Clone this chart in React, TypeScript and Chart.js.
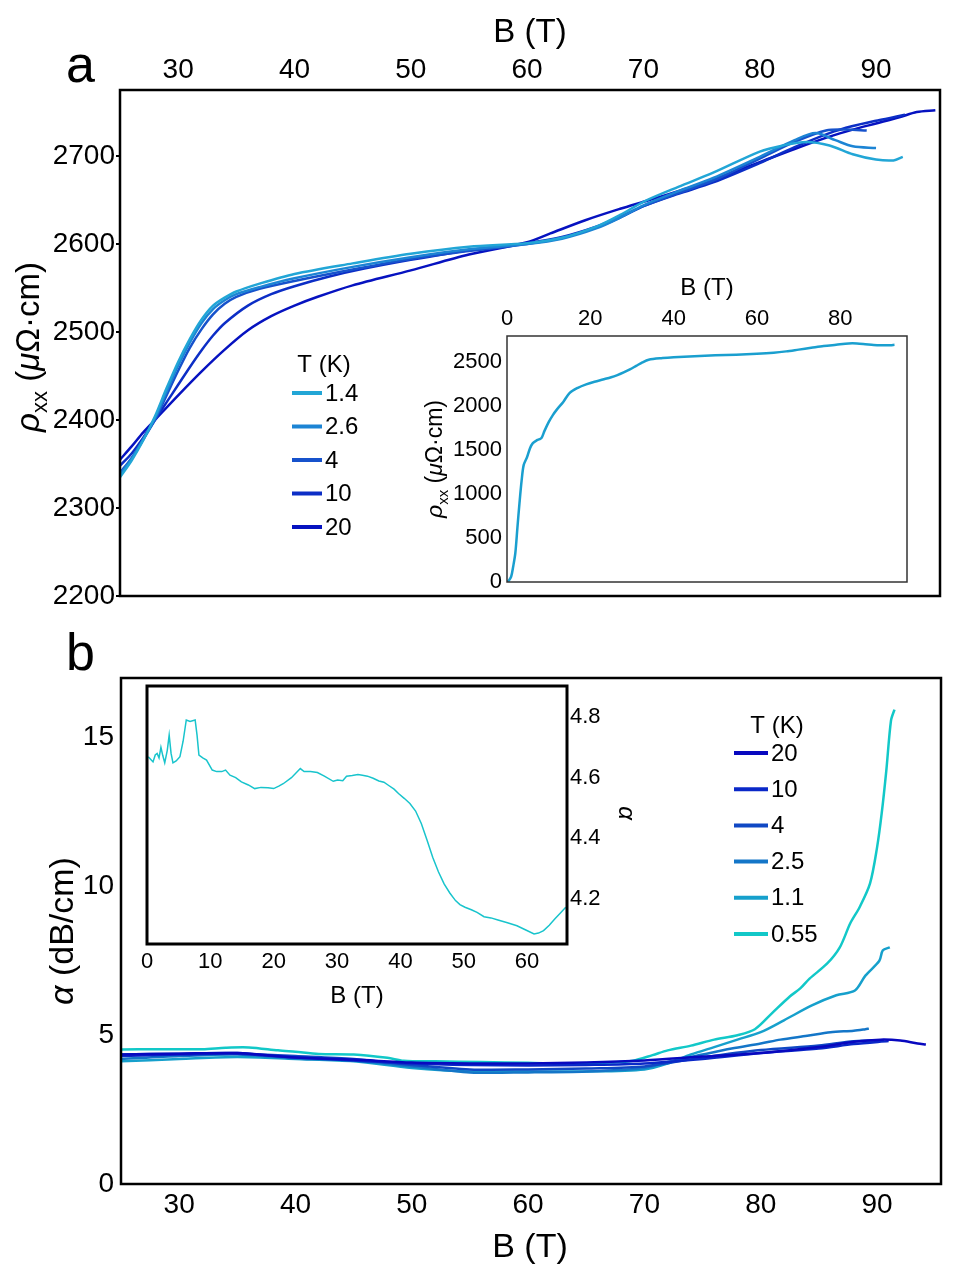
import React, { useEffect, useRef } from "react";
import { Chart, registerables } from "chart.js";

Chart.register(...registerables);

const W = 961;
const H = 1274;
const FONT = "'Liberation Sans', Arial, sans-serif";

// ---------------- Panel a : rho_xx vs B ----------------
const A_TEMPS = ["1.4", "2.6", "4", "10", "20"];
const A_COLORS = ["#22a6d6", "#1c84d4", "#1652cc", "#0c2ec6", "#0612c0"];

const A_B_1p4 = [25, 26, 27, 28, 29, 30, 31, 32, 33, 34, 35, 37, 40, 45, 50, 55, 60, 63, 66, 68, 70, 73, 76, 80, 82, 84, 86, 88, 90, 91.5, 92.3];
const A_R_1p4 = [2335, 2354, 2377, 2404, 2436, 2466, 2492, 2514, 2530, 2539, 2546, 2555, 2566, 2578, 2589, 2597, 2601, 2607, 2620, 2633, 2648, 2665, 2681, 2705, 2712, 2716, 2712, 2702, 2696, 2695, 2699];

const A_B_2p6 = [25, 26, 27, 28, 29, 30, 31, 32, 33, 34, 35, 37, 40, 45, 50, 55, 60, 63, 66, 68, 70, 73, 76, 80, 83, 84.8, 86.5, 88, 90];
const A_R_2p6 = [2338, 2356, 2378, 2402, 2432, 2462, 2488, 2510, 2526, 2536, 2543, 2551, 2561, 2574, 2585, 2594, 2600, 2606, 2618, 2630, 2644, 2660, 2675, 2699, 2718, 2726, 2718, 2711, 2709];

const A_B_4 = [25, 26, 27, 28, 29, 30, 31, 32, 33, 34, 35, 37, 40, 45, 50, 55, 60, 63, 66, 68, 70, 73, 76, 80, 83, 85.7, 87.5, 89.2];
const A_R_4 = [2340, 2357, 2378, 2400, 2428, 2456, 2482, 2503, 2520, 2532, 2540, 2549, 2558, 2571, 2583, 2592, 2600, 2607, 2619, 2630, 2643, 2658, 2672, 2697, 2716, 2729, 2730, 2729];

const A_B_10 = [25, 26, 27, 28, 29, 30, 31, 32, 33, 34, 36, 38, 40, 43, 46, 50, 55, 60, 63, 66, 68, 70, 73, 76, 80, 83, 86, 88, 90, 91.5, 92.5];
const A_R_10 = [2348, 2362, 2380, 2400, 2420, 2440, 2460, 2479, 2496, 2510, 2530, 2543, 2552, 2563, 2572, 2582, 2593, 2601, 2608, 2620, 2631, 2643, 2657, 2670, 2692, 2710, 2726, 2734, 2740, 2744, 2747];

const A_B_20 = [25, 26, 27, 28, 30, 32, 34, 36, 38, 40, 42, 45, 50, 55, 60, 62, 65, 68, 70, 73, 76, 80, 83, 86, 88, 90, 92, 93.5, 95.1];
const A_R_20 = [2355, 2370, 2386, 2400, 2428, 2455, 2480, 2502, 2518, 2530, 2540, 2553, 2570, 2588, 2602, 2612, 2627, 2640, 2648, 2660, 2673, 2693, 2708, 2722, 2730, 2737, 2744, 2750, 2752];

const A_X_TICKS = [30, 40, 50, 60, 70, 80, 90];
const A_Y_TICKS = [2200, 2300, 2400, 2500, 2600, 2700];

// inset a : full field range
const AI_B = [0, 0.5, 1, 1.5, 2, 2.5, 3, 3.5, 4, 4.8, 5.5, 6.2, 7.2, 7.8, 8.3, 9, 10, 11, 12, 13.5, 15, 17, 19, 21, 23, 25, 26.5, 28, 29.5, 31, 32.5, 34, 37, 40, 45, 50, 55, 60, 64, 67, 70, 73, 76, 79, 82, 84, 86, 88, 90, 92, 93];
const AI_R = [0, 20, 60, 180, 330, 620, 900, 1150, 1330, 1420, 1520, 1580, 1614, 1625, 1640, 1720, 1820, 1900, 1965, 2050, 2150, 2210, 2250, 2280, 2305, 2330, 2355, 2385, 2420, 2460, 2500, 2530, 2548, 2557, 2570, 2580, 2588, 2598, 2610, 2625, 2645, 2665, 2685, 2700, 2715, 2715, 2707, 2698, 2695, 2695, 2700];
const AI_X_TICKS = [0, 20, 40, 60, 80];
const AI_Y_TICKS = [0, 500, 1000, 1500, 2000, 2500];

// ---------------- Panel b : alpha vs B ----------------
const B_TEMPS = ["20", "10", "4", "2.5", "1.1", "0.55"];
const B_COLORS = ["#0808bf", "#0a28c8", "#1048c4", "#1476c8", "#16a0cc", "#12c8c8"];

const B_B_20 = [25, 30, 35, 40, 45, 50, 55, 60, 65, 70, 75, 80, 85, 88, 90.3, 92, 93.5, 94.2];
const B_A_20 = [4.35, 4.38, 4.4, 4.25, 4.18, 4.08, 4.05, 4.05, 4.08, 4.15, 4.28, 4.4, 4.6, 4.78, 4.85, 4.82, 4.72, 4.69];

const B_B_10 = [25, 30, 35, 40, 45, 50, 55, 60, 65, 70, 75, 80, 85, 88, 91];
const B_A_10 = [4.3, 4.35, 4.38, 4.25, 4.15, 4.05, 4.0, 3.98, 4.0, 4.05, 4.2, 4.4, 4.55, 4.7, 4.8];

const B_B_4 = [25, 30, 35, 37, 40, 45, 50, 55, 60, 65, 70, 75, 80, 85, 88, 90.6];
const B_A_4 = [4.35, 4.38, 4.4, 4.35, 4.3, 4.2, 4.0, 3.85, 3.85, 3.88, 3.95, 4.25, 4.5, 4.65, 4.8, 4.82];

const B_B_2p5 = [25, 30, 35, 40, 45, 50, 55, 60, 65, 70, 72, 75, 77.5, 80, 81.7, 84, 86, 88, 89, 89.3];
const B_A_2p5 = [4.2, 4.3, 4.35, 4.22, 4.15, 3.95, 3.75, 3.75, 3.78, 3.9, 4.1, 4.35, 4.55, 4.72, 4.85, 4.98, 5.1, 5.15, 5.2, 5.22];

const B_B_1p1 = [25, 30, 35, 40, 45, 50, 55, 60, 65, 70, 72, 74, 76, 78, 80, 82, 84.4, 86.5, 88.1, 89, 90.2, 90.5, 91.1];
const B_A_1p1 = [4.12, 4.2, 4.27, 4.2, 4.12, 3.9, 3.78, 3.78, 3.78, 3.85, 4.05, 4.35, 4.6, 4.85, 5.1, 5.5, 6.0, 6.34, 6.5, 7.0, 7.5, 7.85, 7.95];

const B_B_0p55 = [25, 28, 32, 34, 36, 38.5, 40, 42, 45, 47.9, 49.3, 52, 56, 60, 64, 67, 69, 70.7, 72, 74, 76, 78, 79.5, 81, 82.5, 83.4, 84.2, 85.7, 86.8, 87.7, 88.5, 89.4, 90, 90.4, 90.8, 91.2, 91.5];
const B_A_0p55 = [4.52, 4.53, 4.53, 4.58, 4.59, 4.49, 4.44, 4.37, 4.35, 4.24, 4.14, 4.12, 4.1, 4.07, 4.04, 4.08, 4.14, 4.33, 4.49, 4.65, 4.85, 5.0, 5.2, 5.75, 6.3, 6.57, 6.9, 7.4, 7.95, 8.76, 9.3, 10.1, 11.3, 12.45, 13.9, 15.57, 15.94];

const B_X_TICKS = [30, 40, 50, 60, 70, 80, 90];
const B_Y_TICKS = [0, 5, 10, 15];

// inset b : 0.55 K trace at low field
const BI_B = [0.2, 0.6, 0.95, 1.3, 1.6, 1.9, 2.2, 2.5, 2.8, 3.2, 3.5, 3.8, 4.1, 4.6, 5.2, 5.7, 6.2, 6.8, 7.6, 7.9, 8.2, 8.8, 9.4, 10.3, 11.0, 11.8, 12.4, 13.1, 14.0, 14.9, 16.0, 17.0, 18.0, 19.1, 20.0, 20.8, 21.5, 22.8, 24.2, 24.8, 25.8, 26.9, 28.0, 29.4, 30.1, 30.9, 31.5, 32.4, 33.3, 34.0, 34.8, 35.7, 36.6, 37.4, 38.1, 39.0, 39.7, 40.6, 41.5, 42.4, 43.3, 44.2, 45.1, 46.0, 46.9, 47.8, 48.7, 49.4, 50.2, 51.2, 52.1, 53.2, 54.3, 55.4, 56.9, 58.4, 59.8, 61.1, 61.8, 62.6, 63.5, 64.4, 65.3, 66.1];
const BI_A = [4.669, 4.66, 4.652, 4.675, 4.68, 4.665, 4.7, 4.672, 4.649, 4.69, 4.74, 4.68, 4.649, 4.655, 4.669, 4.72, 4.79, 4.785, 4.79, 4.74, 4.674, 4.665, 4.658, 4.625, 4.62, 4.62, 4.625, 4.608, 4.6, 4.586, 4.576, 4.564, 4.568, 4.567, 4.564, 4.572, 4.58, 4.6, 4.63, 4.62, 4.62, 4.617, 4.605, 4.588, 4.592, 4.59, 4.605, 4.607, 4.61, 4.608, 4.605, 4.598, 4.589, 4.585, 4.575, 4.562, 4.548, 4.532, 4.515, 4.49, 4.449, 4.395, 4.338, 4.29, 4.25, 4.22, 4.195, 4.182, 4.173, 4.165, 4.156, 4.142, 4.138, 4.131, 4.122, 4.112, 4.098, 4.085, 4.088, 4.096, 4.114, 4.135, 4.155, 4.173];
const BI_X_TICKS = [0, 10, 20, 30, 40, 50, 60];
const BI_Y_TICKS = [4.2, 4.4, 4.6, 4.8];
const BI_COLOR = "#18c4cc";

// ---------------- helpers ----------------
const pts = (xs: number[], ys: number[]) => xs.map((x, i) => ({ x, y: ys[i] }));

type Part = { t: string; size: number; italic?: boolean; dy?: number };

function drawRich(ctx: CanvasRenderingContext2D, parts: Part[], x: number, y: number, rot: number, align: "left" | "center" | "right") {
  ctx.save();
  ctx.translate(x, y);
  ctx.rotate(rot);
  ctx.textBaseline = "alphabetic";
  ctx.fillStyle = "#000";
  const f = (p: Part) => `${p.italic ? "italic " : ""}${p.size}px ${FONT}`;
  let total = 0;
  const ws = parts.map((p) => {
    ctx.font = f(p);
    const w = ctx.measureText(p.t).width;
    total += w;
    return w;
  });
  let cx = align === "center" ? -total / 2 : align === "right" ? -total : 0;
  parts.forEach((p, i) => {
    ctx.font = f(p);
    ctx.textAlign = "left";
    ctx.fillText(p.t, cx, p.dy || 0);
    cx += ws[i];
  });
  ctx.restore();
}

function drawLegend(ctx: CanvasRenderingContext2D, chart: any, labels: string[], titleX: number, titleBase: number, x0: number, x1: number, tx: number, y0: number, dy: number, size: number) {
  drawRich(ctx, [{ t: "T (K)", size }], titleX, titleBase, 0, "center");
  labels.forEach((lab, i) => {
    const y = y0 + i * dy;
    ctx.save();
    ctx.strokeStyle = chart.data.datasets[i].borderColor;
    ctx.lineWidth = 4;
    ctx.beginPath();
    ctx.moveTo(x0, y);
    ctx.lineTo(x1, y);
    ctx.stroke();
    ctx.fillStyle = "#000";
    ctx.font = `${size}px ${FONT}`;
    ctx.textBaseline = "middle";
    ctx.textAlign = "left";
    ctx.fillText(lab, tx, y + 1);
    ctx.restore();
  });
}

type AxisSpec = { pos: "top" | "bottom" | "left" | "right"; min: number; max: number; ticks: number[]; size: number; pad: number; tickLen?: number; box: number };
type Area = { l: number; t: number; r: number; b: number };

function buildChart(canvas: HTMLCanvasElement, area: Area, xs: AxisSpec, ys: AxisSpec, datasets: any[], frameW: number, frameColor: string, draw: (ctx: CanvasRenderingContext2D, chart: any) => void) {
  const padding = {
    left: area.l - (ys.pos === "left" ? ys.box : 0),
    right: W - area.r - (ys.pos === "right" ? ys.box : 0),
    top: area.t - (xs.pos === "top" ? xs.box : 0),
    bottom: H - area.b - (xs.pos === "bottom" ? xs.box : 0),
  };
  const axis = (s: AxisSpec, horizontal: boolean) => ({
    type: "linear",
    position: s.pos,
    min: s.min,
    max: s.max,
    afterBuildTicks: (sc: any) => {
      sc.ticks = s.ticks.map((v) => ({ value: v }));
    },
    afterFit: (sc: any) => {
      if (horizontal) sc.height = s.box;
      else sc.width = s.box;
    },
    grid: {
      display: !!s.tickLen,
      drawOnChartArea: false,
      drawTicks: !!s.tickLen,
      tickLength: s.tickLen || 0,
      color: "#000",
      lineWidth: 2,
    },
    border: { display: false },
    ticks: {
      font: { family: FONT, size: s.size },
      color: "#000",
      padding: s.pad,
      maxRotation: 0,
      minRotation: 0,
      autoSkip: false,
      callback: (v: any) => String(v),
    },
  });
  return new Chart(canvas, {
    type: "line",
    data: { datasets },
    options: {
      responsive: false,
      animation: false,
      events: [],
      layout: { padding },
      parsing: false as any,
      plugins: { legend: { display: false }, tooltip: { enabled: false }, title: { display: false } },
      elements: { point: { radius: 0 } },
      scales: { x: axis(xs, true) as any, y: axis(ys, false) as any },
    },
    plugins: [
      {
        id: "deco",
        afterDatasetsDraw(chart: any) {
          const { left, top, right, bottom } = chart.chartArea;
          const ctx = chart.ctx;
          ctx.save();
          ctx.strokeStyle = frameColor;
          ctx.lineWidth = frameW;
          ctx.strokeRect(left, top, right - left, bottom - top);
          ctx.restore();
        },
        afterDraw(chart: any) {
          draw(chart.ctx, chart);
        },
      },
    ],
  });
}

const line = (label: string, xs: number[], ys: number[], color: string, width: number, tension = 0.3) => ({
  label,
  data: pts(xs, ys),
  borderColor: color,
  backgroundColor: color,
  borderWidth: width,
  pointRadius: 0,
  fill: false,
  tension,
});

export default function App() {
  const c1 = useRef<HTMLCanvasElement>(null);
  const c2 = useRef<HTMLCanvasElement>(null);
  const c3 = useRef<HTMLCanvasElement>(null);
  const c4 = useRef<HTMLCanvasElement>(null);

  useEffect(() => {
    const charts: Chart[] = [];

    // Panel a main
    const aSets = [
      line(A_TEMPS[0], A_B_1p4, A_R_1p4, A_COLORS[0], 2.5),
      line(A_TEMPS[1], A_B_2p6, A_R_2p6, A_COLORS[1], 2.5),
      line(A_TEMPS[2], A_B_4, A_R_4, A_COLORS[2], 2.5),
      line(A_TEMPS[3], A_B_10, A_R_10, A_COLORS[3], 2.5),
      line(A_TEMPS[4], A_B_20, A_R_20, A_COLORS[4], 2.5),
    ];
    charts.push(
      buildChart(
        c1.current!,
        { l: 120, t: 90, r: 940, b: 596 },
        { pos: "top", min: 25, max: 95.5, ticks: A_X_TICKS, size: 28, pad: 3, box: 40 },
        { pos: "left", min: 2200, max: 2775, ticks: A_Y_TICKS, size: 28, pad: 1, tickLen: 4, box: 110 },
        aSets,
        2.5,
        "#000",
        (ctx, chart) => {
          drawRich(ctx, [{ t: "a", size: 52 }], 66, 82, 0, "left");
          drawRich(ctx, [{ t: "B (T)", size: 33 }], 530, 42, 0, "center");
          drawRich(
            ctx,
            [
              { t: "ρ", size: 33, italic: true },
              { t: "xx", size: 22, dy: 8 },
              { t: " (", size: 33 },
              { t: "μ", size: 33, italic: true },
              { t: "Ω·cm)", size: 33 },
            ],
            39,
            347,
            -Math.PI / 2,
            "center"
          );
          drawLegend(ctx, chart, A_TEMPS, 324, 372, 292, 322, 325, 393, 33.5, 24);
        }
      )
    );

    // Panel a inset
    charts.push(
      buildChart(
        c2.current!,
        { l: 507, t: 336, r: 907, b: 582 },
        { pos: "top", min: 0, max: 96, ticks: AI_X_TICKS, size: 22, pad: 4, box: 40 },
        { pos: "left", min: 0, max: 2800, ticks: AI_Y_TICKS, size: 22, pad: 5, box: 75 },
        [line("inset", AI_B, AI_R, "#1a9fcf", 2.5, 0.3)],
        1.5,
        "#333",
        (ctx) => {
          drawRich(ctx, [{ t: "B (T)", size: 24 }], 707, 295, 0, "center");
          drawRich(
            ctx,
            [
              { t: "ρ", size: 23, italic: true },
              { t: "xx", size: 15, dy: 6 },
              { t: " (", size: 23 },
              { t: "μ", size: 23, italic: true },
              { t: "Ω·cm)", size: 23 },
            ],
            442,
            459,
            -Math.PI / 2,
            "center"
          );
        }
      )
    );

    // Panel b main
    const bSets = [
      line(B_TEMPS[0], B_B_20, B_A_20, B_COLORS[0], 2.5),
      line(B_TEMPS[1], B_B_10, B_A_10, B_COLORS[1], 2.5),
      line(B_TEMPS[2], B_B_4, B_A_4, B_COLORS[2], 2.5),
      line(B_TEMPS[3], B_B_2p5, B_A_2p5, B_COLORS[3], 2.5),
      line(B_TEMPS[4], B_B_1p1, B_A_1p1, B_COLORS[4], 2.5),
      line(B_TEMPS[5], B_B_0p55, B_A_0p55, B_COLORS[5], 2.5),
    ];
    charts.push(
      buildChart(
        c3.current!,
        { l: 121, t: 678, r: 941, b: 1184 },
        { pos: "bottom", min: 25, max: 95.5, ticks: B_X_TICKS, size: 28, pad: 4, box: 40 },
        { pos: "left", min: 0, max: 17, ticks: B_Y_TICKS, size: 28, pad: 7, box: 100 },
        bSets,
        2.5,
        "#000",
        (ctx, chart) => {
          drawRich(ctx, [{ t: "b", size: 52 }], 66, 670, 0, "left");
          drawRich(ctx, [{ t: "B (T)", size: 34 }], 530, 1257, 0, "center");
          drawRich(
            ctx,
            [
              { t: "α", size: 34, italic: true },
              { t: " (dB/cm)", size: 34 },
            ],
            73,
            931,
            -Math.PI / 2,
            "center"
          );
          drawLegend(ctx, chart, B_TEMPS, 777, 733, 734, 768, 771, 753, 36.2, 24);
        }
      )
    );

    // Panel b inset
    charts.push(
      buildChart(
        c4.current!,
        { l: 147, t: 686, r: 567, b: 944 },
        { pos: "bottom", min: 0, max: 66.3, ticks: BI_X_TICKS, size: 22, pad: 5, box: 40 },
        { pos: "right", min: 4.052, max: 4.902, ticks: BI_Y_TICKS, size: 22, pad: 3, box: 50 },
        [line("inset", BI_B, BI_A, BI_COLOR, 1.5, 0)],
        3,
        "#000",
        (ctx) => {
          drawRich(ctx, [{ t: "B (T)", size: 24 }], 357, 1003, 0, "center");
          drawRich(ctx, [{ t: "α", size: 24, italic: true }], 619, 813, Math.PI / 2, "center");
        }
      )
    );

    return () => {
      charts.forEach((c) => c.destroy());
    };
  }, []);

  const cs: React.CSSProperties = { position: "absolute", left: 0, top: 0, width: W, height: H };
  return (
    <div style={{ position: "absolute", left: 0, top: 0, width: W, height: H, background: "#fff" }}>
      <canvas ref={c1} width={W} height={H} style={cs} />
      <canvas ref={c2} width={W} height={H} style={cs} />
      <canvas ref={c3} width={W} height={H} style={cs} />
      <canvas ref={c4} width={W} height={H} style={cs} />
    </div>
  );
}
